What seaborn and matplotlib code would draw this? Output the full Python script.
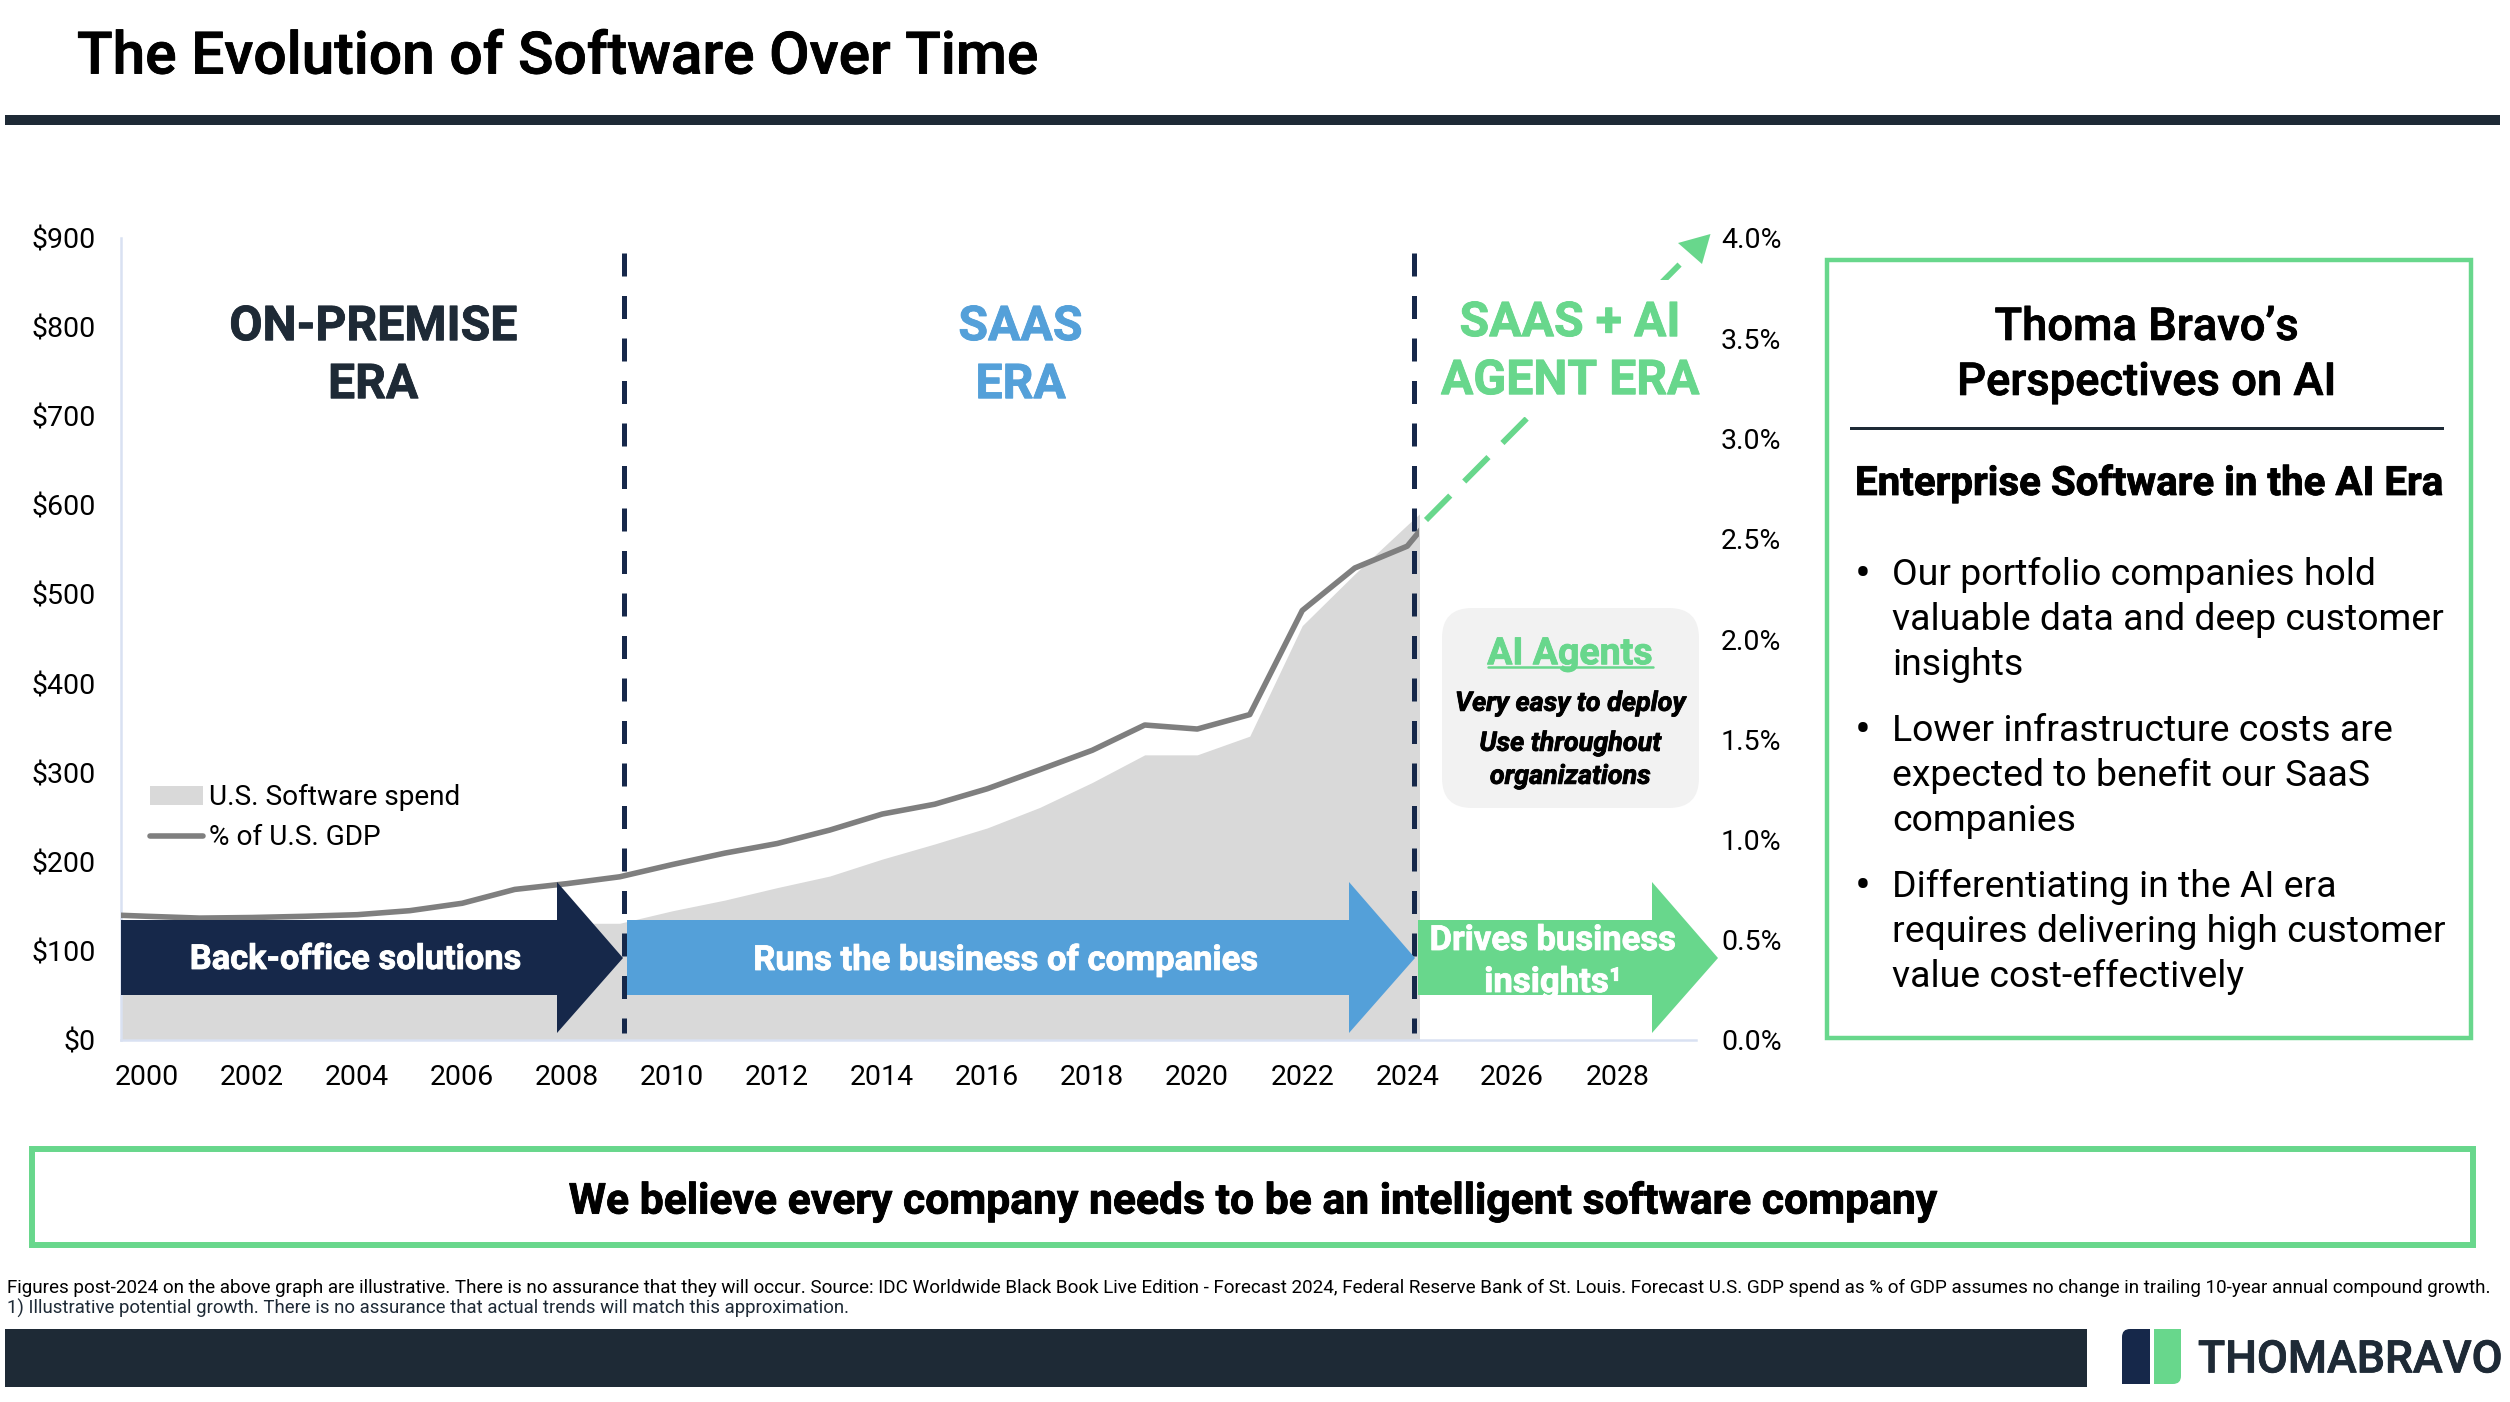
import matplotlib
matplotlib.use('Agg')
import matplotlib.pyplot as plt
import matplotlib.patheffects as pe
from matplotlib.patches import Rectangle, Polygon, FancyBboxPatch, PathPatch
from matplotlib.path import Path
import seaborn as sns

sns.set_theme(style='white')
plt.rcParams['font.family'] = ['Roboto', 'DejaVu Sans']
plt.rcParams['axes.unicode_minus'] = False

# values
years = [1999.5, 2000, 2001, 2002, 2003, 2004, 2005, 2006, 2007, 2008, 2009, 2010, 2011, 2012,
         2013, 2014, 2015, 2016, 2017, 2018, 2019, 2020, 2021, 2022, 2023, 2024, 2025]
software_spend = [118, 118, 115, 116, 118, 120, 123, 126, 129, 131, 131, 145, 157, 171,
                  184, 203, 220, 238, 261, 289, 320, 320, 341, 465, 523, 578, 631]
pct_gdp = [0.622, 0.617, 0.608, 0.611, 0.617, 0.625, 0.645, 0.682, 0.751, 0.78, 0.814, 0.875, 0.932, 0.98,
           1.047, 1.127, 1.176, 1.253, 1.348, 1.445, 1.571, 1.551, 1.623, 2.142, 2.354, 2.463, 2.78]
year_ticks = list(range(2000, 2030, 2))
dollar_ticks = list(range(0, 1000, 100))
pct_ticks = [0, 0.5, 1, 1.5, 2, 2.5, 3, 3.5, 4]
era_breaks = [2009.09, 2024.13]

NAVY = '#16284A'
DARK = '#1E2A36'
BLUE = '#54A0D9'
GREEN = '#68D78C'
GREY_AREA = '#D9D9D9'
GREY_LINE = '#7F7F7F'
AXIS_LINE = '#D9E1F2'

W, H = 2510, 1402
fig = plt.figure(figsize=(W / 100, H / 100), dpi=100, facecolor='white')

# chart axes, placed in pixel terms
ax = fig.add_axes([121 / W, 1 - 1040 / H, (1696 - 121) / W, (1040 - 238) / H])
ax.patch.set_alpha(0)
area = ax.fill_between(years, software_spend, 0, color=GREY_AREA, linewidth=0, label='U.S. Software spend')
ax.set_xlim(1999.5, 2029.5)
ax.set_ylim(0, 900)
ax.set_xticks(year_ticks)
ax.set_yticks(dollar_ticks)
ax.set_yticklabels([f'${v}' for v in dollar_ticks])
ax.tick_params(axis='both', length=0, labelsize=20.5, colors='black')
ax.tick_params(axis='x', pad=17)
ax.tick_params(axis='y', pad=18)
for side in ['top', 'right']:
    ax.spines[side].set_visible(False)
for side in ['left', 'bottom']:
    ax.spines[side].set_color(AXIS_LINE)
    ax.spines[side].set_linewidth(1.8)

# the series stop just past 2024, everything later is blanked out
clip_spend = Rectangle((1999.5, 0), 24.73, 900, transform=ax.transData)
area.set_clip_path(clip_spend)

for yr in era_breaks:
    ax.plot([yr, yr], [883, 8], color=NAVY, linewidth=3.6, dashes=(4.6, 3.9), zorder=3)

ax2 = ax.twinx()
ax2.patch.set_alpha(0)
sns.lineplot(x=years, y=pct_gdp, ax=ax2, color=GREY_LINE, linewidth=4, legend=False)
gdp_line = ax2.lines[0]
gdp_line.set_label('% of U.S. GDP')
gdp_line.set_solid_capstyle('round')
clip_pct = Rectangle((1999.5, 0), 24.73, 4, transform=ax2.transData)
gdp_line.set_clip_path(clip_pct)
ax2.set_ylim(0, 4)
ax2.set_yticks(pct_ticks)
ax2.set_yticklabels([f'{v:.1f}%' for v in pct_ticks])
ax2.set_ylabel('')
ax2.tick_params(axis='y', length=0, labelsize=20.5, pad=18, colors='black')
for side in ax2.spines:
    ax2.spines[side].set_visible(False)

ax.legend(handles=[area, gdp_line], loc='upper left', bbox_to_anchor=((150 - 121) / 1575, (1040 - 784) / 802),
          frameon=False, fontsize=20.2, borderpad=0, borderaxespad=0, handlelength=1.9, handleheight=0.65,
          handletextpad=0.2, labelspacing=0.47, labelcolor='black')

# slide furniture drawn in pixel coordinates
deck = fig.add_axes([0, 0, 1, 1])
deck.set_xlim(0, W)
deck.set_ylim(H, 0)
deck.axis('off')
deck.patch.set_alpha(0)


def label(x, y, s, size, weight='normal', color='black', ha='center', style='normal'):
    t = deck.text(x, y + size * 0.12, s, fontsize=size, fontweight=weight, color=color,
                  ha=ha, va='center', style=style, zorder=5)
    # the slide's headings are a touch heavier than the font's own weights
    if weight != 'normal':
        t.set_path_effects([pe.withStroke(linewidth=0.6, foreground=color)])
    return t


def box(x0, y0, x1, y1, **kw):
    deck.add_patch(Rectangle((x0, y0), x1 - x0, y1 - y0, **kw))


# header
label(77, 52, 'The Evolution of Software Over Time', 42.2, weight='medium', ha='left')
box(5, 115, 2500, 125, color=DARK, linewidth=0)

# dashed forecast arrow, the era title sits on a white patch
deck.plot([1426, 1697], [520, 247], color=GREEN, linewidth=4.2, dashes=(5.9, 3.4), zorder=0.5)
box(1440, 280, 1700, 417, color='white', linewidth=0, zorder=1)
deck.add_patch(Polygon([(1710.5, 234), (1678, 243), (1702, 264)], color=GREEN, linewidth=0))

# era titles
label(373, 323, 'ON-PREMISE', 34.7, weight='bold', color=DARK)
label(373, 381, 'ERA', 34.7, weight='bold', color=DARK)
label(1020.5, 323, 'SAAS', 34.7, weight='bold', color=BLUE)
label(1020.5, 381, 'ERA', 34.7, weight='bold', color=BLUE)
label(1570, 319, 'SAAS + AI', 34.7, weight='bold', color=GREEN)
label(1570, 377, 'AGENT ERA', 34.7, weight='bold', color=GREEN)


# block arrows
def block_arrow(x0, x_neck, x_tip, color):
    pts = [(x0, 920), (x_neck, 920), (x_neck, 882), (x_tip, 958), (x_neck, 1033), (x_neck, 995), (x0, 995)]
    deck.add_patch(Polygon(pts, color=color, linewidth=0))


block_arrow(121, 557, 623, NAVY)
block_arrow(627, 1349, 1415, BLUE)
block_arrow(1418, 1652, 1718, GREEN)
label(356, 957, 'Back-office solutions', 24.8, weight='bold', color='white')
label(1006, 957, 'Runs the business of companies', 24.9, weight='bold', color='white')
label(1553, 937.5, 'Drives business', 24.9, weight='bold', color='white')
label(1553, 979.5, 'insights¹', 25, weight='bold', color='white')

# AI agents callout
deck.add_patch(FancyBboxPatch((1442, 608), 257, 200, boxstyle='round,pad=0,rounding_size=30',
                              facecolor='#F2F2F2', edgecolor='none'))
label(1570, 650.5, 'AI Agents', 27, weight='bold', color=GREEN)
deck.plot([1488, 1653], [667, 667], color=GREEN, linewidth=1.8)
label(1570, 701, 'Very easy to deploy', 19.4, weight='bold', style='italic')
label(1570, 741, 'Use throughout', 19.4, weight='bold', style='italic')
label(1570, 774, 'organizations', 19.4, weight='bold', style='italic')

# right panel
deck.add_patch(Rectangle((1827, 260), 644, 778, fill=False, edgecolor=GREEN, linewidth=3.2))
label(2146.5, 324, 'Thoma Bravo’s', 32.6, weight='medium')
label(2146.5, 379, 'Perspectives on AI', 32.6, weight='medium')
box(1850, 426.5, 2444, 429.5, color=DARK, linewidth=0)
label(1855, 480, 'Enterprise Software in the AI Era', 29, weight='bold', ha='left')

bullets = [
    ['Our portfolio companies hold', 'valuable data and deep customer', 'insights'],
    ['Lower infrastructure costs are', 'expected to benefit our SaaS', 'companies'],
    ['Differentiating in the AI era', 'requires delivering high customer', 'value cost-effectively'],
]
bullet_tops = [572, 728, 884]
for top, lines in zip(bullet_tops, bullets):
    label(1863, top - 1, '•', 34, ha='center')
    for i, line in enumerate(lines):
        label(1892, top + i * 45, line, 26.9, ha='left')

# bottom call-out
deck.add_patch(Rectangle((32, 1149), 2441, 96, fill=False, edgecolor=GREEN, linewidth=4.3))
label(1252.5, 1198, 'We believe every company needs to be an intelligent software company', 30.7, weight='bold')

# footnotes and footer
label(7, 1286.5, 'Figures post-2024 on the above graph are illustrative. There is no assurance that they will occur. '
      'Source: IDC Worldwide Black Book Live Edition - Forecast 2024, Federal Reserve Bank of St. Louis. '
      'Forecast U.S. GDP spend as % of GDP assumes no change in trailing 10-year annual compound growth.',
      13.55, ha='left')
label(7, 1307, '1) Illustrative potential growth. There is no assurance that actual trends will match this approximation.',
      13.4, color=DARK, ha='left')
box(5, 1329, 2087, 1387, color=DARK, linewidth=0)

# logo
navy_path = Path([(2150, 1329), (2130, 1329), (2122, 1329), (2122, 1337), (2122, 1384), (2150, 1384), (2150, 1329)],
                 [Path.MOVETO, Path.LINETO, Path.CURVE3, Path.CURVE3, Path.LINETO, Path.LINETO, Path.CLOSEPOLY])
green_path = Path([(2154, 1329), (2181, 1329), (2181, 1376), (2181, 1384), (2173, 1384), (2154, 1384), (2154, 1329)],
                  [Path.MOVETO, Path.LINETO, Path.LINETO, Path.CURVE3, Path.CURVE3, Path.LINETO, Path.CLOSEPOLY])
deck.add_patch(PathPatch(navy_path, facecolor=NAVY, edgecolor='none'))
deck.add_patch(PathPatch(green_path, facecolor=GREEN, edgecolor='none'))
label(2198, 1356.5, 'THOMABRAVO', 32.2, weight='medium', color=DARK, ha='left')

fig.savefig('out.png', dpi=100)
